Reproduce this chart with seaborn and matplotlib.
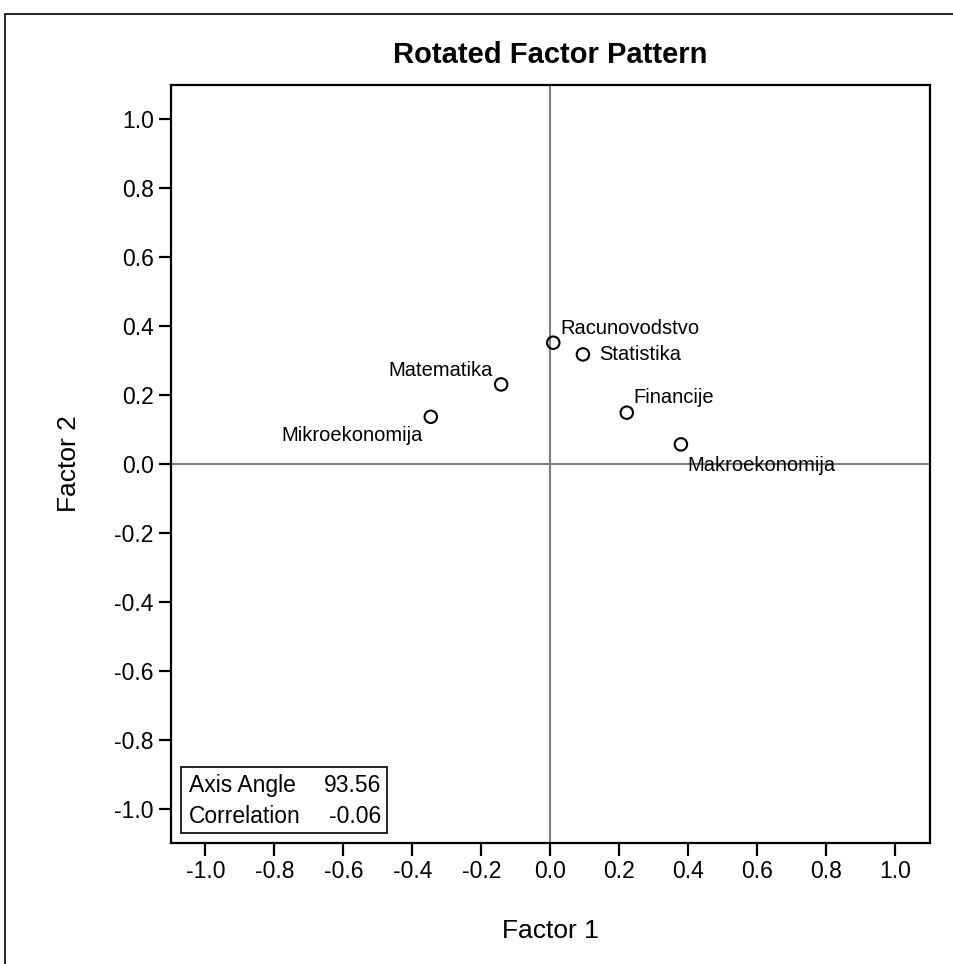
import matplotlib
matplotlib.use("Agg")
import matplotlib.pyplot as plt
import pandas as pd
import seaborn as sns
from matplotlib.patches import Rectangle

# ── Data ───────────────────────────────────────────────────────────────────
variables = ["Racunovodstvo", "Statistika", "Matematika",
             "Mikroekonomija", "Financije", "Makroekonomija"]
factor1 = [0.008, 0.094, -0.143, -0.347, 0.221, 0.378]
factor2 = [0.352, 0.318, 0.231, 0.137, 0.149, 0.057]

stat_names = ["Axis Angle", "Correlation"]
stat_values = ["93.56", "-0.06"]

ticks = [-1.0, -0.8, -0.6, -0.4, -0.2, 0.0, 0.2, 0.4, 0.6, 0.8, 1.0]

# label placement per point: (dx, dy in points, ha, va)
label_pos = {
    "Racunovodstvo": (5, 6.5, "left", "baseline"),
    "Statistika": (12, 0, "left", "center"),
    "Matematika": (-6, 6, "right", "baseline"),
    "Mikroekonomija": (-6, -17.5, "right", "baseline"),
    "Financije": (5, 7, "left", "baseline"),
    "Makroekonomija": (5, -19, "left", "baseline"),
}

# ── Style ──────────────────────────────────────────────────────────────────
sns.set_style("ticks")
plt.rcParams["font.family"] = ["Liberation Sans", "DejaVu Sans"]
plt.rcParams.update({
    "axes.linewidth": 1.6,
    "xtick.major.width": 1.6,
    "ytick.major.width": 1.6,
    "xtick.major.size": 9,
    "ytick.major.size": 9,
    "xtick.major.pad": 3.5,
    "ytick.major.pad": 3.5,
    "xtick.labelsize": 16.5,
    "ytick.labelsize": 16.5,
    "axes.edgecolor": "black",
    "axes.labelcolor": "black",
    "axes.titlecolor": "black",
    "text.color": "black",
    "xtick.color": "black",
    "ytick.color": "black",
})

df = pd.DataFrame({"Factor 1": factor1, "Factor 2": factor2, "name": variables})

fig = plt.figure(figsize=(9.54, 9.64), dpi=100)
ax = fig.add_axes([171 / 954, 121 / 964, 759 / 954, 758 / 964])

# outer frame (clipped by image edge on right/bottom)
fig.patches.append(Rectangle((5 / 954, -0.05), 1.1, (964 - 14) / 964 + 0.05,
                             transform=fig.transFigure, fill=False,
                             edgecolor="black", linewidth=1.2, zorder=0))

ax.axhline(0, color="#808080", linewidth=1.5, zorder=1)
ax.axvline(0, color="#808080", linewidth=1.5, zorder=1)

sns.scatterplot(data=df, x="Factor 1", y="Factor 2", ax=ax,
                marker="o", s=80, facecolor="none", edgecolor="black",
                linewidth=1.5, zorder=3)

for name, x, y in zip(variables, factor1, factor2):
    dx, dy, ha, va = label_pos[name]
    ax.annotate(name, (x, y), xytext=(dx, dy), textcoords="offset points",
                ha=ha, va=va, fontsize=14.5, color="black")

ax.set_xlim(-1.1, 1.1)
ax.set_ylim(-1.1, 1.1)
ax.set_xticks(ticks)
ax.set_yticks(ticks)
ax.set_xticklabels([f"{t:.1f}" for t in ticks])
ax.set_yticklabels([f"{t:.1f}" for t in ticks])

ax.set_xlabel("Factor 1", fontsize=19, labelpad=26)
ax.set_ylabel("Factor 2", fontsize=19, labelpad=24)
ax.set_title("Rotated Factor Pattern", fontsize=21, fontweight="bold", pad=16)

for s in ax.spines.values():
    s.set_visible(True)

# inset statistics box
ax.add_patch(Rectangle((0.0132, 0.0132), 0.2714, 0.0871, transform=ax.transAxes,
                       fill=False, edgecolor="black", linewidth=1.2, zorder=4))
for i, (n, v) in enumerate(zip(stat_names, stat_values)):
    yy = 0.0765 - i * 0.041
    ax.text(0.0237, yy, n, transform=ax.transAxes, ha="left", va="center",
            fontsize=16.5)
    ax.text(0.2767, yy, v, transform=ax.transAxes, ha="right", va="center",
            fontsize=16.5)

fig.savefig("out.png", dpi=100)
